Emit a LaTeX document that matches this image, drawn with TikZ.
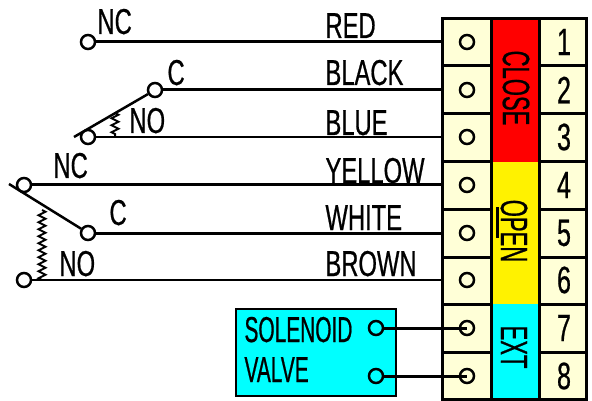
\documentclass[tikz,border=0pt]{standalone}
\usepackage{fontspec}
\setmainfont[FakeStretch=0.66,FakeBold=0.6]{Liberation Sans}
\newfontfamily\blockfont[FakeStretch=0.58,FakeBold=0.6]{Liberation Sans}
\usetikzlibrary{decorations.pathmorphing}
\definecolor{termcream}{RGB}{255,255,215}
\definecolor{extcyan}{RGB}{0,255,255}

\tikzset{
  every picture/.style = {x=1pt, y=-1pt, line width=3pt},
  contact/.style = {shape=circle, draw, fill=white, line width=2.5pt,
    inner sep=0pt, minimum size=14pt},
  term/.style = {shape=circle, draw, line width=2.5pt,
    inner sep=0pt, minimum size=14pt},
  wirelabel/.style = {inner sep=0pt, anchor=base west, font=\fontsize{36}{36}\selectfont},
  numlabel/.style = {inner sep=0pt, font=\fontsize{38}{38}\selectfont},
  blocklabel/.style = {inner sep=0pt, rotate=-90, font=\blockfont\fontsize{38}{38}\selectfont},
  valvelabel/.style = {wirelabel, font=\blockfont\fontsize{36}{36}\selectfont},
  thinwire/.style = {line width=2pt},
  springline/.style = {line width=2pt, decorate,
    decoration={zigzag, segment length=7pt, amplitude=3.5pt}}}

\begin{document}
\begin{tikzpicture}
  \useasboundingbox (0,0) rectangle (592,401);

  % terminal block
  \fill[termcream] (442,19) rectangle (586,399);
  \fill[red] (491,19) rectangle (539,162);
  \fill[yellow] (491,162) rectangle (539,304);
  \fill[extcyan] (491,304) rectangle (539,399);
  \foreach \y in {66,114,162,209,257,304,352} {
    \draw (442,\y) -- (491,\y);
    \draw (539,\y) -- (586,\y);
  }
  \draw (491,19) -- (491,399);
  \draw (539,19) -- (539,399);
  \draw (442,19) rectangle (586,399);

  \foreach \n/\y in {1/42,2/90,3/137,4/185,5/233,6/280,7/328,8/376} {
    \node[term] (t\n) at (467,\y) {};
    \coordinate (e\n) at (442,\y);
    \node[numlabel] (num\n) at (564,\y) {\n};
  }
  \node[blocklabel] (close) at (516,88) {CLOSE};
  \node[blocklabel] (open) at (514,231) {OPEN};
  \node[blocklabel] (ext) at (514,347) {EXT};
  \coordinate (ula) at (497,207);
  \coordinate (ulb) at (497,238);
  \draw (ula) -- (ulb);

  % upper switch
  \node[contact] (nc1) at (88,42) {};
  \node[contact] (c1) at (155,90) {};
  \node[contact] (no1) at (88,137) {};
  \node[wirelabel] (nc1text) at (96,34) {NC};
  \node[wirelabel] (c1text) at (166,85) {C};
  \node[wirelabel] (no1text) at (128,133) {NO};
  \coordinate (arm1) at (74,137);
  \coordinate (sp1) at (115,113);
  \coordinate (sp1end) at (115,137);
  \draw[line width=2.5pt] (arm1) -- (c1);
  \draw[springline] (sp1) -- (sp1end);

  % lower switch
  \node[contact] (nc2) at (24,185) {};
  \node[contact] (c2) at (88,233) {};
  \node[contact] (no2) at (24,280) {};
  \node[wirelabel] (nc2text) at (52,178) {NC};
  \node[wirelabel] (c2text) at (108,225) {C};
  \node[wirelabel] (no2text) at (58,276) {NO};
  \coordinate (arm2) at (9,184);
  \coordinate (sp2) at (42,210);
  \coordinate (sp2end) at (42,280);
  \draw[line width=2.5pt] (arm2) -- (c2);
  \draw[springline] (sp2) -- (sp2end);

  % wires
  \draw (nc1) -- (e1);
  \draw (c1) -- (e2);
  \draw[thinwire] (no1) -- (e3);
  \draw (nc2) -- (e4);
  \draw (c2) -- (e5);
  \draw[line width=2.5pt] (no2) -- (e6);
  \foreach \name/\ly in {RED/38, BLACK/85, BLUE/135, YELLOW/183, WHITE/230, BROWN/276} {
    \node[wirelabel] (\name) at (324,\ly) {\name};
  }

  % valve
  \node[draw, fill=extcyan, line width=2.5pt, minimum width=160pt, minimum height=87pt,
    inner sep=0pt] (valve) at (316,352.5) {};
  \node[valvelabel] (solenoid) at (243,342) {SOLENOID};
  \node[valvelabel] (valvetext) at (243,382) {VALVE};
  \node[contact, fill=none] (s1) at (376,328) {};
  \node[contact, fill=none] (s2) at (376,376) {};
  \draw (s1) -- (t7.center);
  \draw (s2) -- (t8.center);
\end{tikzpicture}
\end{document}
